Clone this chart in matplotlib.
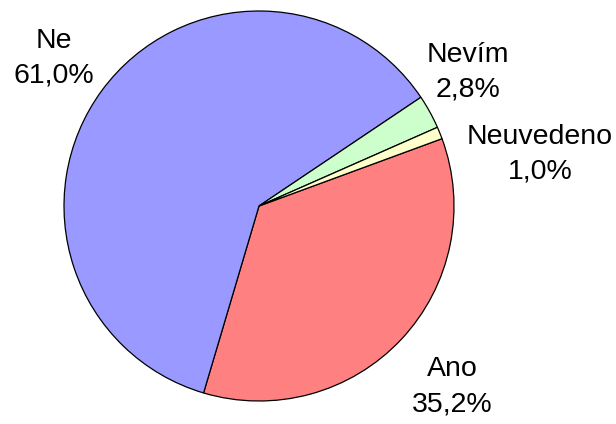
import matplotlib.pyplot as plt

# Data
labels = ['Ano', 'Ne', 'Nevím', 'Neuvedeno']
values = [35.2, 61.0, 2.8, 1.0]
pct_labels = ['35,2%', '61,0%', '2,8%', '1,0%']
colors = ['#FF8080', '#9999FF', '#CCFFCC', '#FFFFCC']

# label positions in pixels (x, y from top)
label_pos = [(452, 387), (54, 58), (468, 72), (540, 154)]

W, H = 616, 424
fig = plt.figure(figsize=(W / 100, H / 100), dpi=100)
ax = fig.add_axes([0, 0, 1, 1])

ax.pie(values, colors=colors, startangle=20.2, counterclock=False,
       center=(259, H - 206), radius=195,
       wedgeprops=dict(edgecolor='black', linewidth=0.9), frame=True)
ax.set_xlim(0, W)
ax.set_ylim(0, H)
ax.axis('off')

for lab, pct, (x, y) in zip(labels, pct_labels, label_pos):
    ax.text(x, H - y, f'{lab}\n{pct}', ha='center', va='center',
            fontsize=20.5, family='Liberation Sans', linespacing=1.45)

fig.savefig('out.png', dpi=100)
